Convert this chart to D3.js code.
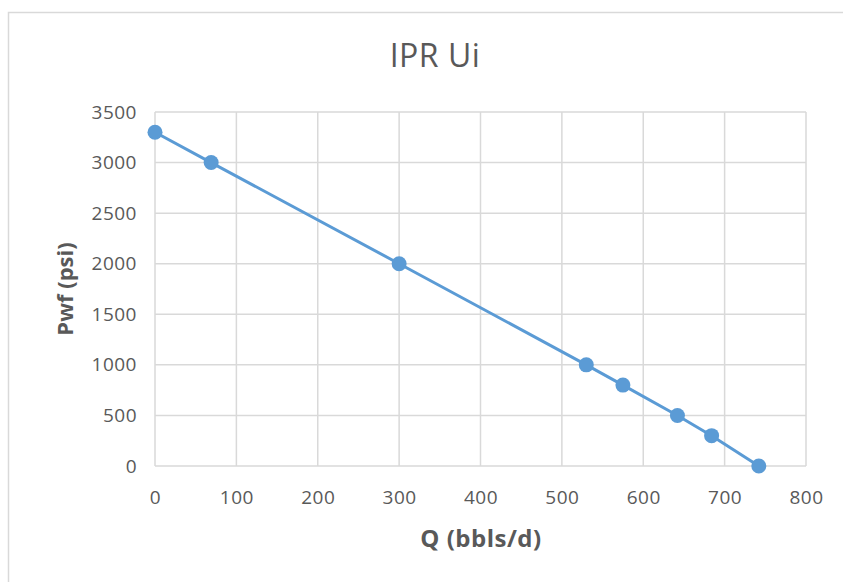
<!DOCTYPE html>
<html>
<head>
<meta charset="utf-8">
<script src="https://cdn.jsdelivr.net/npm/d3@7/dist/d3.min.js"></script>
<style>
  html, body { margin: 0; padding: 0; background: #fff; }
  svg { display: block; }
  text { font-family: "Open Sans", "Noto Sans", sans-serif; fill: #595959; }
</style>
</head>
<body>
<svg id="chart" width="843" height="582"></svg>
<script>
// IPR curve: flow rate vs bottomhole flowing pressure
const rates = [0, 69, 300, 530, 575, 642, 684, 742];
const pressures = [3300, 3000, 2000, 1000, 800, 500, 300, 0];
const xTicks = [0, 100, 200, 300, 400, 500, 600, 700, 800];
const yTicks = [0, 500, 1000, 1500, 2000, 2500, 3000, 3500];

const svg = d3.select("#chart");
const W = 843, H = 582;
const plot = { left: 155, right: 806, top: 112, bottom: 466 };

// chart frame
svg.append("rect")
  .attr("x", 8.5).attr("y", 12.5)
  .attr("width", W + 10).attr("height", H + 10)
  .attr("fill", "#fff").attr("stroke", "#d9d9d9").attr("stroke-width", 1.5);

const x = d3.scaleLinear().domain([0, 800]).range([plot.left, plot.right]);
const y = d3.scaleLinear().domain([0, 3500]).range([plot.bottom, plot.top]);

// gridlines
const grid = svg.append("g");
grid.selectAll("line.v").data(xTicks).join("line")
  .attr("x1", d => x(d)).attr("x2", d => x(d))
  .attr("y1", plot.top).attr("y2", plot.bottom)
  .attr("stroke", "#d9d9d9").attr("stroke-width", 1.5);
grid.selectAll("line.h").data(yTicks).join("line")
  .attr("x1", plot.left).attr("x2", plot.right)
  .attr("y1", d => y(d)).attr("y2", d => y(d))
  .attr("stroke", "#d9d9d9").attr("stroke-width", 1.5);

// axes (labels only)
const fmt = d3.format("d");
const xAxis = svg.append("g")
  .attr("transform", `translate(0,${plot.bottom})`)
  .call(d3.axisBottom(x).tickValues(xTicks).tickFormat(fmt).tickSize(0).tickPadding(31));
const yAxis = svg.append("g")
  .attr("transform", `translate(${plot.left},0)`)
  .call(d3.axisLeft(y).tickValues(yTicks).tickFormat(fmt).tickSize(0).tickPadding(18));
[xAxis, yAxis].forEach(a => {
  a.select(".domain").remove();
  a.selectAll("text")
    .style("font-family", '"Open Sans", "Noto Sans", sans-serif')
    .style("font-size", "19px").style("letter-spacing", "0.5px")
    .attr("fill", "#595959");
});
xAxis.selectAll("text").attr("dy", "0.35em");

// series line and markers
const pts = rates.map((r, i) => [r, pressures[i]]);
svg.append("path")
  .datum(pts)
  .attr("fill", "none")
  .attr("stroke", "#5b9bd5")
  .attr("stroke-width", 3)
  .attr("d", d3.line().x(d => x(d[0])).y(d => y(d[1])));
svg.selectAll("circle.pt").data(pts).join("circle")
  .attr("cx", d => x(d[0])).attr("cy", d => y(d[1]))
  .attr("r", 7.5).attr("fill", "#5b9bd5");

// titles
svg.append("text")
  .attr("x", 435).attr("y", 67)
  .attr("text-anchor", "middle")
  .style("font-size", "32px").style("font-weight", 400)
  .style("letter-spacing", "0.5px")
  .text("IPR Ui");
svg.append("text")
  .attr("x", 481).attr("y", 547)
  .attr("text-anchor", "middle")
  .style("font-size", "24px").style("font-weight", 700)
  .style("letter-spacing", "0.5px")
  .text("Q (bbls/d)");
svg.append("text")
  .attr("transform", "translate(73,289) rotate(-90)")
  .attr("text-anchor", "middle")
  .style("font-size", "22px").style("font-weight", 700)
  .text("Pwf (psi)");
</script>
</body>
</html>
